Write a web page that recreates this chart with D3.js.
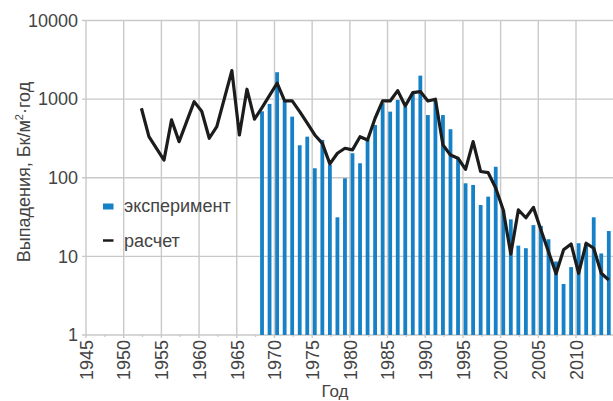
<!DOCTYPE html>
<html><head><meta charset="utf-8">
<script src="https://cdn.jsdelivr.net/npm/d3@7"></script>
<style>body{margin:0;background:#fff}svg{display:block}text{font-family:"Liberation Sans",Arial,sans-serif}</style>
</head><body>
<svg id="c" width="613" height="401"></svg>
<script>
const barYears = d3.range(1968, 2015);
const barValues = [700,869,2198,948,599,259,333,132,303,146,31.4,98.5,205,153,303,468,887,693,975,803,1188,1990,627,935,627,414,177,85,81,45,57.5,138,39,29.6,13.7,12.7,25,24.4,16.5,8.6,4.45,7.3,14.7,14.7,31.4,10.9,21];
const lineYears = d3.range(1952, 2015);
const lineValues = [766,333,237,168,544,288,517,929,700,318,447,1015,2305,350,1336,555,780,1115,1593,948,948,693,495,350,274,150,205,237,226,333,302,571,948,948,1283,819,1210,1247,948,997,261,195,177,128,288,120,116,74,39,10.7,39,31,42,21.7,11.5,6,12.1,14.4,6.1,14.7,12.7,6.1,5];
const xTicks = d3.range(1945, 2011, 5);
const yTicks = [1,10,100,1000,10000];
const legendLabels = ["эксперимент","расчет"];
const xTitle = "Год";

const svg = d3.select("#c");
const x = d3.scaleLinear().domain([1945, 2015]).range([86, 613.7]);
const y = d3.scaleLog().domain([1, 10000]).range([335, 20.5]);
const off = 0.35;
const grid = "#c9c9c9";

svg.append("g").selectAll("line").data(yTicks).join("line")
  .attr("x1", 82).attr("x2", 613).attr("y1", d => y(d)).attr("y2", d => y(d))
  .attr("stroke", grid).attr("stroke-width", 1.4);
svg.append("g").selectAll("line").data(xTicks).join("line")
  .attr("x1", d => x(d)).attr("x2", d => x(d)).attr("y1", y(10000)).attr("y2", y(1) + 3)
  .attr("stroke", grid).attr("stroke-width", 1.4);
svg.append("g").selectAll("line").data(xTicks.map(d => d + 2.5)).join("line")
  .attr("x1", d => x(d)).attr("x2", d => x(d)).attr("y1", y(1)).attr("y2", y(1) + 2)
  .attr("stroke", grid).attr("stroke-width", 1.2);

svg.append("g").selectAll("rect").data(barYears).join("rect")
  .attr("x", (d) => x(d + off) - 1.9).attr("width", 3.8)
  .attr("y", (d, i) => y(barValues[i])).attr("height", (d, i) => y(1) - y(barValues[i]))
  .attr("fill", "#1681c6");

const line = d3.line().x((d) => x(d + off)).y((d, i) => y(lineValues[i]));
svg.append("path").datum(lineYears).attr("d", line)
  .attr("fill", "none").attr("stroke", "#1c1c1c").attr("stroke-width", 3.2).attr("stroke-linejoin", "round");

svg.append("g").selectAll("text").data(yTicks).join("text")
  .attr("x", 78).attr("y", d => y(d)).attr("dy", "0.35em").attr("text-anchor", "end")
  .attr("font-size", 18).attr("fill", "#444").text(d => d);
svg.append("g").selectAll("text").data(xTicks).join("text")
  .attr("transform", d => `translate(${x(d) + 6.8},340) rotate(-90)`)
  .attr("text-anchor", "end").attr("font-size", 18).attr("fill", "#444").text(d => d);
svg.append("text").attr("x", 335).attr("y", 397).attr("text-anchor", "middle")
  .attr("font-size", 17).attr("fill", "#444").text(xTitle);
const yt = svg.append("text").attr("transform", "translate(30,172) rotate(-90)")
  .attr("text-anchor", "middle").attr("font-size", 18).attr("fill", "#444");
yt.append("tspan").text("Выпадения, Бк/м");
yt.append("tspan").attr("font-size", 11).attr("dy", -7).text("2");
yt.append("tspan").attr("dy", 7).text("·год");

svg.append("rect").attr("x", 103).attr("y", 203.5).attr("width", 10.5).attr("height", 6).attr("fill", "#1681c6");
svg.append("text").attr("x", 124).attr("y", 211.5).attr("font-size", 18).attr("fill", "#444").text(legendLabels[0]);
svg.append("line").attr("x1", 103).attr("x2", 113.5).attr("y1", 240.5).attr("y2", 240.5).attr("stroke", "#1c1c1c").attr("stroke-width", 2.5);
svg.append("text").attr("x", 124).attr("y", 247).attr("font-size", 18).attr("fill", "#444").text(legendLabels[1]);
</script>
</body></html>
